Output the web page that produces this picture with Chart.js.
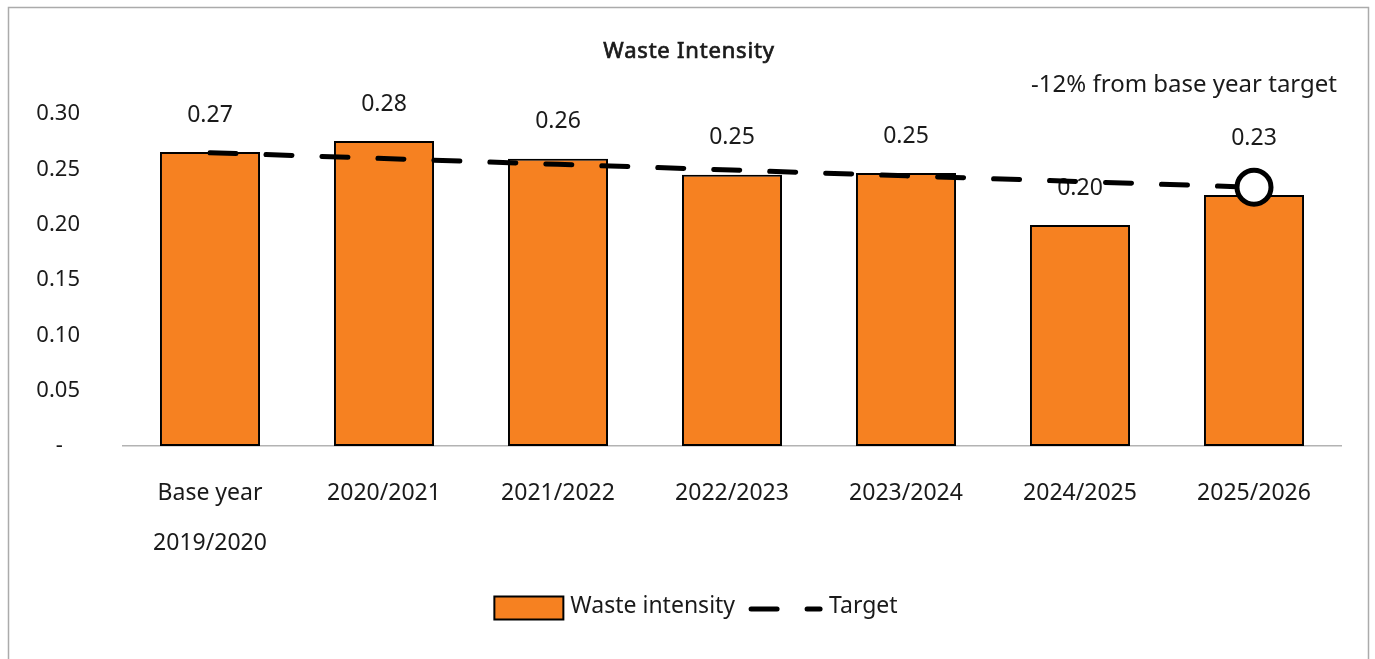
<!DOCTYPE html>
<html>
<head>
<meta charset="utf-8">
<title>Waste Intensity</title>
<script src="https://cdn.jsdelivr.net/npm/chart.js@4/dist/chart.umd.min.js"></script>
<style>
  html, body { margin: 0; padding: 0; background: #fff; }
  #wrap { position: relative; width: 1375px; height: 659px; }
</style>
</head>
<body>
<div id="wrap"><canvas id="wasteChart" width="1375" height="659"></canvas></div>
<script>
// Fiscal years (first one is the base year, split over two lines)
const years = [['Base year', '2019/2020'], '2020/2021', '2021/2022', '2022/2023', '2023/2024', '2024/2025', '2025/2026'];
// Measured waste intensity per year
const wasteIntensity = [0.2657, 0.2756, 0.2596, 0.2451, 0.2467, 0.1997, 0.2268];
// Reduction path towards -12% of the base year
const targetPath = [0.2650, 0.2598, 0.2545, 0.2494, 0.2441, 0.2389, 0.2338];

const FONT = '"Noto Sans", "Open Sans", sans-serif';
const TEXT = '#1a1a1a';
const ORANGE = '#f68121';

// frame, title, note and legend drawn straight onto the canvas
const decorPlugin = {
    id: 'decor',
    beforeDraw(chart) {
        const ctx = chart.ctx;
        ctx.save();
        ctx.strokeStyle = '#ababab';
        ctx.lineWidth = 1.5;
        ctx.strokeRect(8.5, 7.5, 1360, 720);
        ctx.restore();
    },
    afterDatasetDraw(chart, args) {
        // value labels above the bars, under the target line
        if (args.index !== 0) return;
        const ctx = chart.ctx;
        const bars = chart.getDatasetMeta(0).data;
        const marker = chart.getDatasetMeta(1).data;
        ctx.save();
        ctx.font = '23px ' + FONT;
        ctx.fillStyle = TEXT;
        ctx.textAlign = 'center';
        ctx.textBaseline = 'middle';
        bars.forEach((bar, i) => {
            let y = bar.y - 37;
            const pt = marker[i];
            const r = chart.data.datasets[1].pointRadius[i];
            if (r > 0) y = Math.min(y, pt.y - r - 32);
            ctx.fillText(wasteIntensity[i].toFixed(2), bar.x, y);
        });
        ctx.restore();
    },
    afterDraw(chart) {
        const ctx = chart.ctx;
        ctx.save();
        ctx.fillStyle = TEXT;
        ctx.textBaseline = 'middle';

        // medium-weight title: regular face with a thin outline
        ctx.font = '22px ' + FONT;
        ctx.letterSpacing = '0.8px';
        ctx.textAlign = 'center';
        ctx.strokeStyle = TEXT;
        ctx.lineWidth = 0.7;
        ctx.fillText('Waste Intensity', 689, 52);
        ctx.strokeText('Waste Intensity', 689, 52);
        ctx.letterSpacing = '0px';

        ctx.font = '24px ' + FONT;
        ctx.textAlign = 'right';
        ctx.fillText('-12% from base year target', 1337, 85);

        // legend
        ctx.font = '23px ' + FONT;
        ctx.textAlign = 'left';
        const y = 608;
        const barLabel = 'Waste intensity';
        const lineLabel = 'Target';
        const boxW = 69, boxH = 23, lineW = 74;
        const total = boxW + 7 + ctx.measureText(barLabel).width + 14 + lineW + 6 + ctx.measureText(lineLabel).width;
        let x = 696 - total / 2;

        ctx.fillStyle = ORANGE;
        ctx.fillRect(x, y - boxH / 2, boxW, boxH);
        ctx.strokeStyle = '#000';
        ctx.lineWidth = 2;
        ctx.strokeRect(x, y - boxH / 2, boxW, boxH);
        x += boxW + 7;
        ctx.fillStyle = TEXT;
        ctx.fillText(barLabel, x, y - 2);
        x += ctx.measureText(barLabel).width + 14;

        ctx.beginPath();
        ctx.setLineDash([26, 30]);
        ctx.lineCap = 'round';
        ctx.lineWidth = 5;
        ctx.moveTo(x + 2, y + 1);
        ctx.lineTo(x + lineW - 3, y + 1);
        ctx.stroke();
        ctx.setLineDash([]);
        x += lineW + 6;
        ctx.fillText(lineLabel, x, y - 2);
        ctx.restore();
    }
};

const ctx = document.getElementById('wasteChart').getContext('2d');
new Chart(ctx, {
    type: 'bar',
    data: {
        labels: years,
        datasets: [{
            type: 'bar',
            label: 'Waste intensity',
            data: wasteIntensity,
            backgroundColor: ORANGE,
            borderColor: '#000',
            borderWidth: 2,
            borderSkipped: false,
            barPercentage: 1,
            categoryPercentage: 0.575,
            order: 1
        }, {
            type: 'line',
            label: 'Target',
            data: targetPath,
            borderColor: '#000',
            borderWidth: 5,
            borderDash: [26, 30],
            borderCapStyle: 'round',
            fill: false,
            tension: 0,
            pointRadius: targetPath.map((v, i) => i === targetPath.length - 1 ? 17 : 0),
            pointBackgroundColor: '#fff',
            pointBorderColor: '#000',
            pointBorderWidth: 5,
            order: 0
        }]
    },
    options: {
        responsive: false,
        animation: false,
        layout: { padding: { top: 114, right: 34, left: 0, bottom: 0 } },
        plugins: {
            legend: { display: false },
            title: { display: false },
            tooltip: { enabled: false }
        },
        scales: {
            x: {
                grid: { display: false },
                border: { display: true, color: '#b3b3b3', width: 1.5 },
                ticks: {
                    color: TEXT,
                    padding: 14,
                    maxRotation: 0,
                    autoSkip: false,
                    font: { family: FONT, size: 23, lineHeight: '50px' }
                },
                afterFit(scale) { scale.height = 213; }
            },
            y: {
                min: 0,
                max: 0.30,
                grid: { display: false, drawTicks: false },
                border: { display: false },
                ticks: {
                    stepSize: 0.05,
                    color: TEXT,
                    padding: 43,
                    font: { family: FONT, size: 22 },
                    callback: v => v === 0 ? '-   ' : v.toFixed(2)
                },
                afterFit(scale) { scale.width = 123; }
            }
        }
    },
    plugins: [decorPlugin]
});
</script>
</body>
</html>
